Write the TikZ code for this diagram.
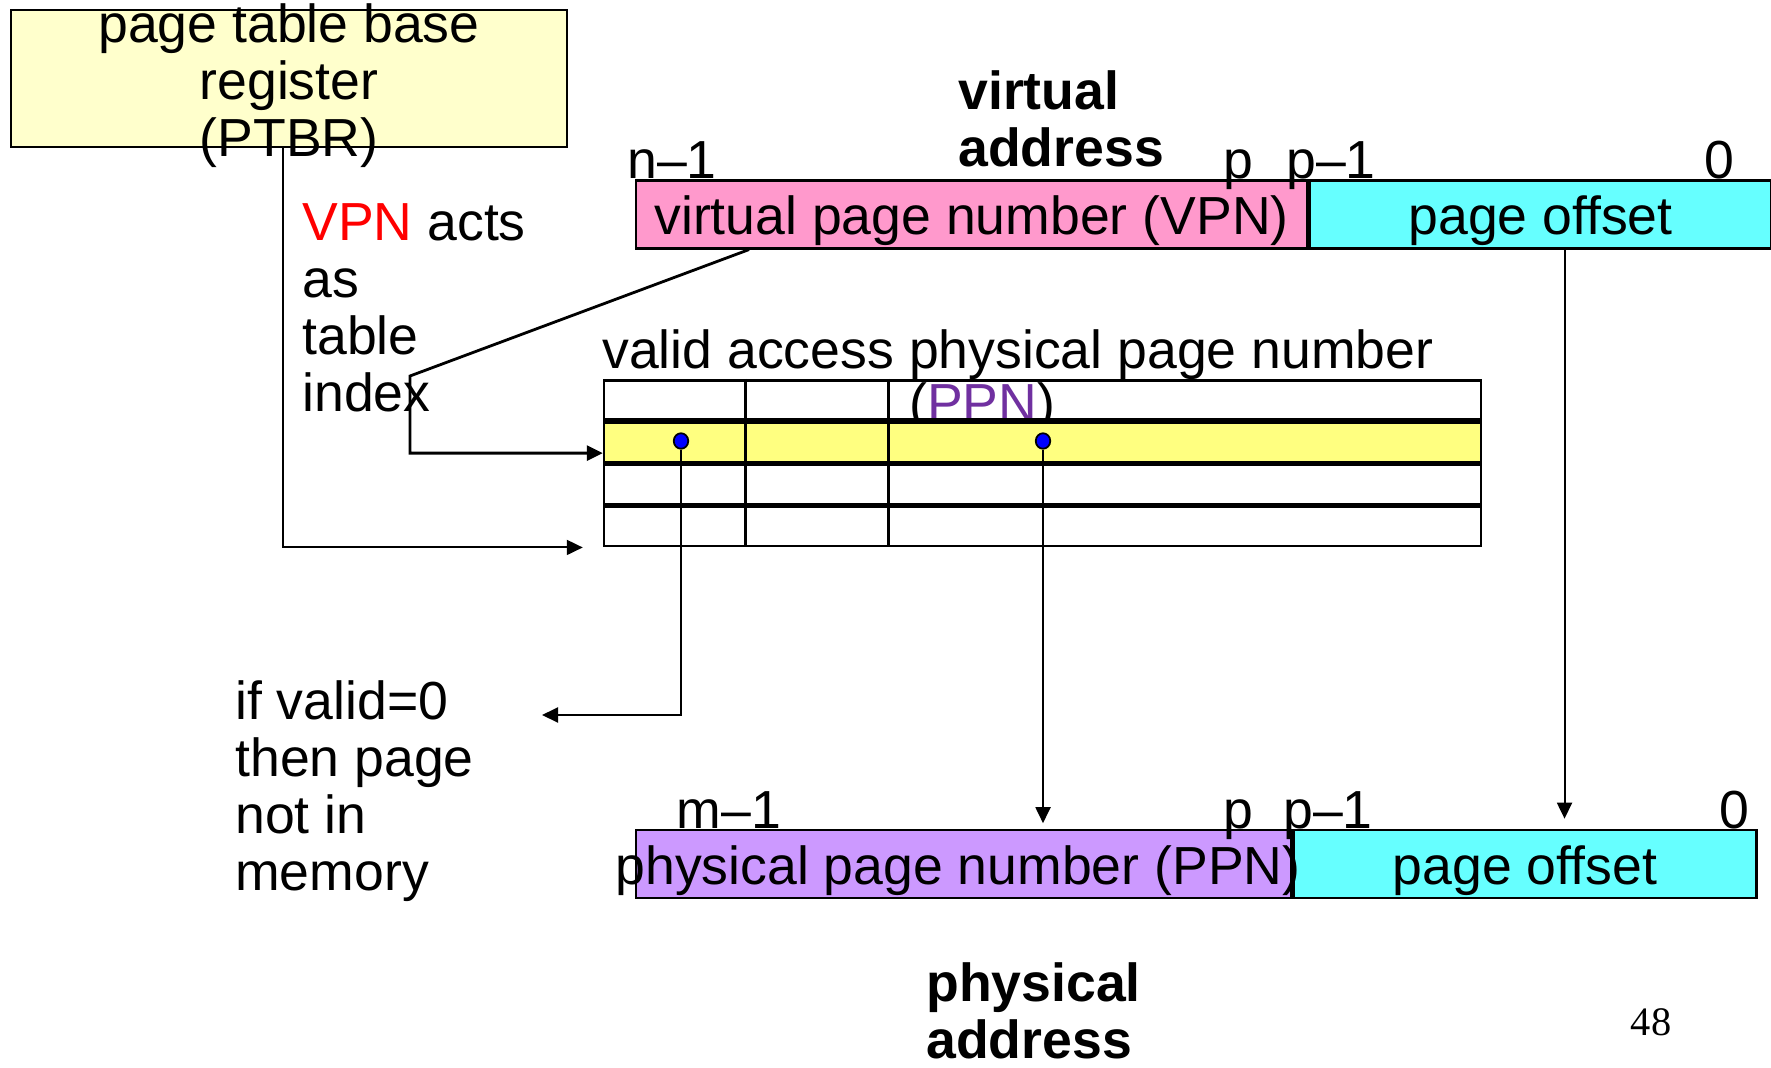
\documentclass[tikz,border=0pt]{standalone}
\usepackage{fontspec}
\setmainfont{Liberation Sans}
\newfontfamily\slidenumfont{Liberation Serif}
\usetikzlibrary{shapes,arrows.meta,positioning}
\definecolor{ptbrfill}{HTML}{FFFFCC}
\definecolor{vpnfill}{HTML}{FF99CC}
\definecolor{offfill}{HTML}{66FFFF}
\definecolor{ppnfill}{HTML}{CC99FF}
\definecolor{rowfill}{HTML}{FFFF80}
\definecolor{ppncolor}{HTML}{7030A0}
\newcommand{\bigtext}{\fontsize{30.5}{32.4}\selectfont}
\tikzstyle{field} = [draw, rectangle, line width=1.5pt, inner sep=0pt,
    minimum height=1.35cm, text height=0.82cm, text depth=0pt]
\tikzstyle{tablerow} = [draw, rectangle, line width=1.5pt, inner sep=0pt,
    minimum width=17.54cm, minimum height=0.79cm]
\tikzstyle{dot} = [draw, ellipse, fill=blue, inner sep=0pt, line width=1pt,
    minimum width=0.29cm, minimum height=0.31cm]
\tikzstyle{bit} = [anchor=base, inner sep=0pt]
\tikzstyle{note} = [align=left, anchor=west, inner sep=0pt]
\tikzstyle{title} = [align=left, anchor=west, inner sep=0pt, font=\bigtext\bfseries]
\tikzstyle{wire} = [line width=1.1pt, -{Triangle[length=3.2mm,width=3mm]}]

\begin{document}
\begin{tikzpicture}[x=0.02cm, y=-0.02cm, font=\bigtext]
      \useasboundingbox (0,0) rectangle (1771,1068);

      % page table base register
      \node[field, fill=ptbrfill, minimum width=11.12cm, minimum height=2.74cm] at (289,78.5) (ptbr) {};
      \node[align=center, inner sep=0pt] at (289,86) (ptbrtext) {page table base\\register\\(PTBR)};

      % virtual address
      \node[title] at (958,119) (vatitle) {virtual\\address};
      \node[field, fill=vpnfill, minimum width=13.42cm] at (971.5,214.5) (vpn) {virtual page number (VPN)};
      \node[field, fill=offfill, minimum width=9.24cm, right=0pt of vpn] (voff) {page offset};
      \node[bit] at (672,178) (vbitn) {n--1};
      \node[bit] at (1238,178) (vbitp) {p};
      \node[bit] at (1331,178) (vbitpm) {p--1};
      \node[bit] at (1719,178) (vbitz) {0};

      \node[note] at (302,308) (idxnote) {\textcolor{red}{VPN} acts\\as\\table\\index};

      % page table
      \node[anchor=base west, inner sep=0pt] at (602,368) (hdr) {valid access physical page number};
      \node[anchor=base west, inner sep=0pt] at (909,421) (hdrppn) {(\textcolor{ppncolor}{PPN})};
      \node[tablerow] at (1042.5,400) (row1) {};
      \node[tablerow, fill=rowfill, below=0pt of row1] (row2) {};
      \node[tablerow, below=0pt of row2] (row3) {};
      \node[tablerow, below=0pt of row3] (row4) {};
      \draw[line width=1.5pt] ([shift={(143,0)}]row1.north west) -- ([shift={(143,0)}]row4.south west);
      \draw[line width=1.5pt] ([shift={(286,0)}]row1.north west) -- ([shift={(286,0)}]row4.south west);
      \node[dot] at (681,441) (vdot) {};
      \node[dot] at (1043,441) (pdot) {};

      \node[note] at (235,791) (faultnote) {if valid=0\\then page\\not in\\memory};

      % physical address
      \node[field, fill=ppnfill, minimum width=13.1cm, minimum height=1.36cm] at (963.5,864) (ppn) {};
      \node[field, fill=offfill, minimum width=9.26cm, minimum height=1.36cm, right=0pt of ppn] (poff) {page offset};
      \node[anchor=base, inner sep=0pt] at (958,884) (ppntext) {physical page number (PPN)};
      \node[bit] at (729,828) (pbitm) {m--1};
      \node[bit] at (1238,828) (pbitp) {p};
      \node[bit] at (1328,828) (pbitpm) {p--1};
      \node[bit] at (1734,828) (pbitz) {0};
      \node[title] at (926,1011) (patitle) {physical\\address};
      \node[font=\slidenumfont\fontsize{23}{27}\selectfont] at (1651,1022) (slideno) {48};

      % connectors
      \coordinate[left=0.4cm of row4.south west] (ptbrend);
      \draw[wire] ([xshift=-0.12cm]ptbr.south) |- (ptbrend);

      \coordinate (vpntap) at ([xshift=-4.45cm]vpn.south);
      \coordinate (idxbend) at (410,376);
      \draw[wire, line width=1.6pt] (vpntap) -- (idxbend) |- ([yshift=-0.22cm]row2.west);

      \coordinate (faultend) at (542,715);
      \draw[wire] (vdot) |- (faultend);
      \draw[wire, shorten >=0.11cm] (pdot) -- (pdot |- ppn.north);

      \coordinate (offtap) at ([xshift=0.48cm]voff.south);
      \draw[wire, shorten >=0.2cm] (offtap) -- (offtap |- poff.north);
\end{tikzpicture}
\end{document}
